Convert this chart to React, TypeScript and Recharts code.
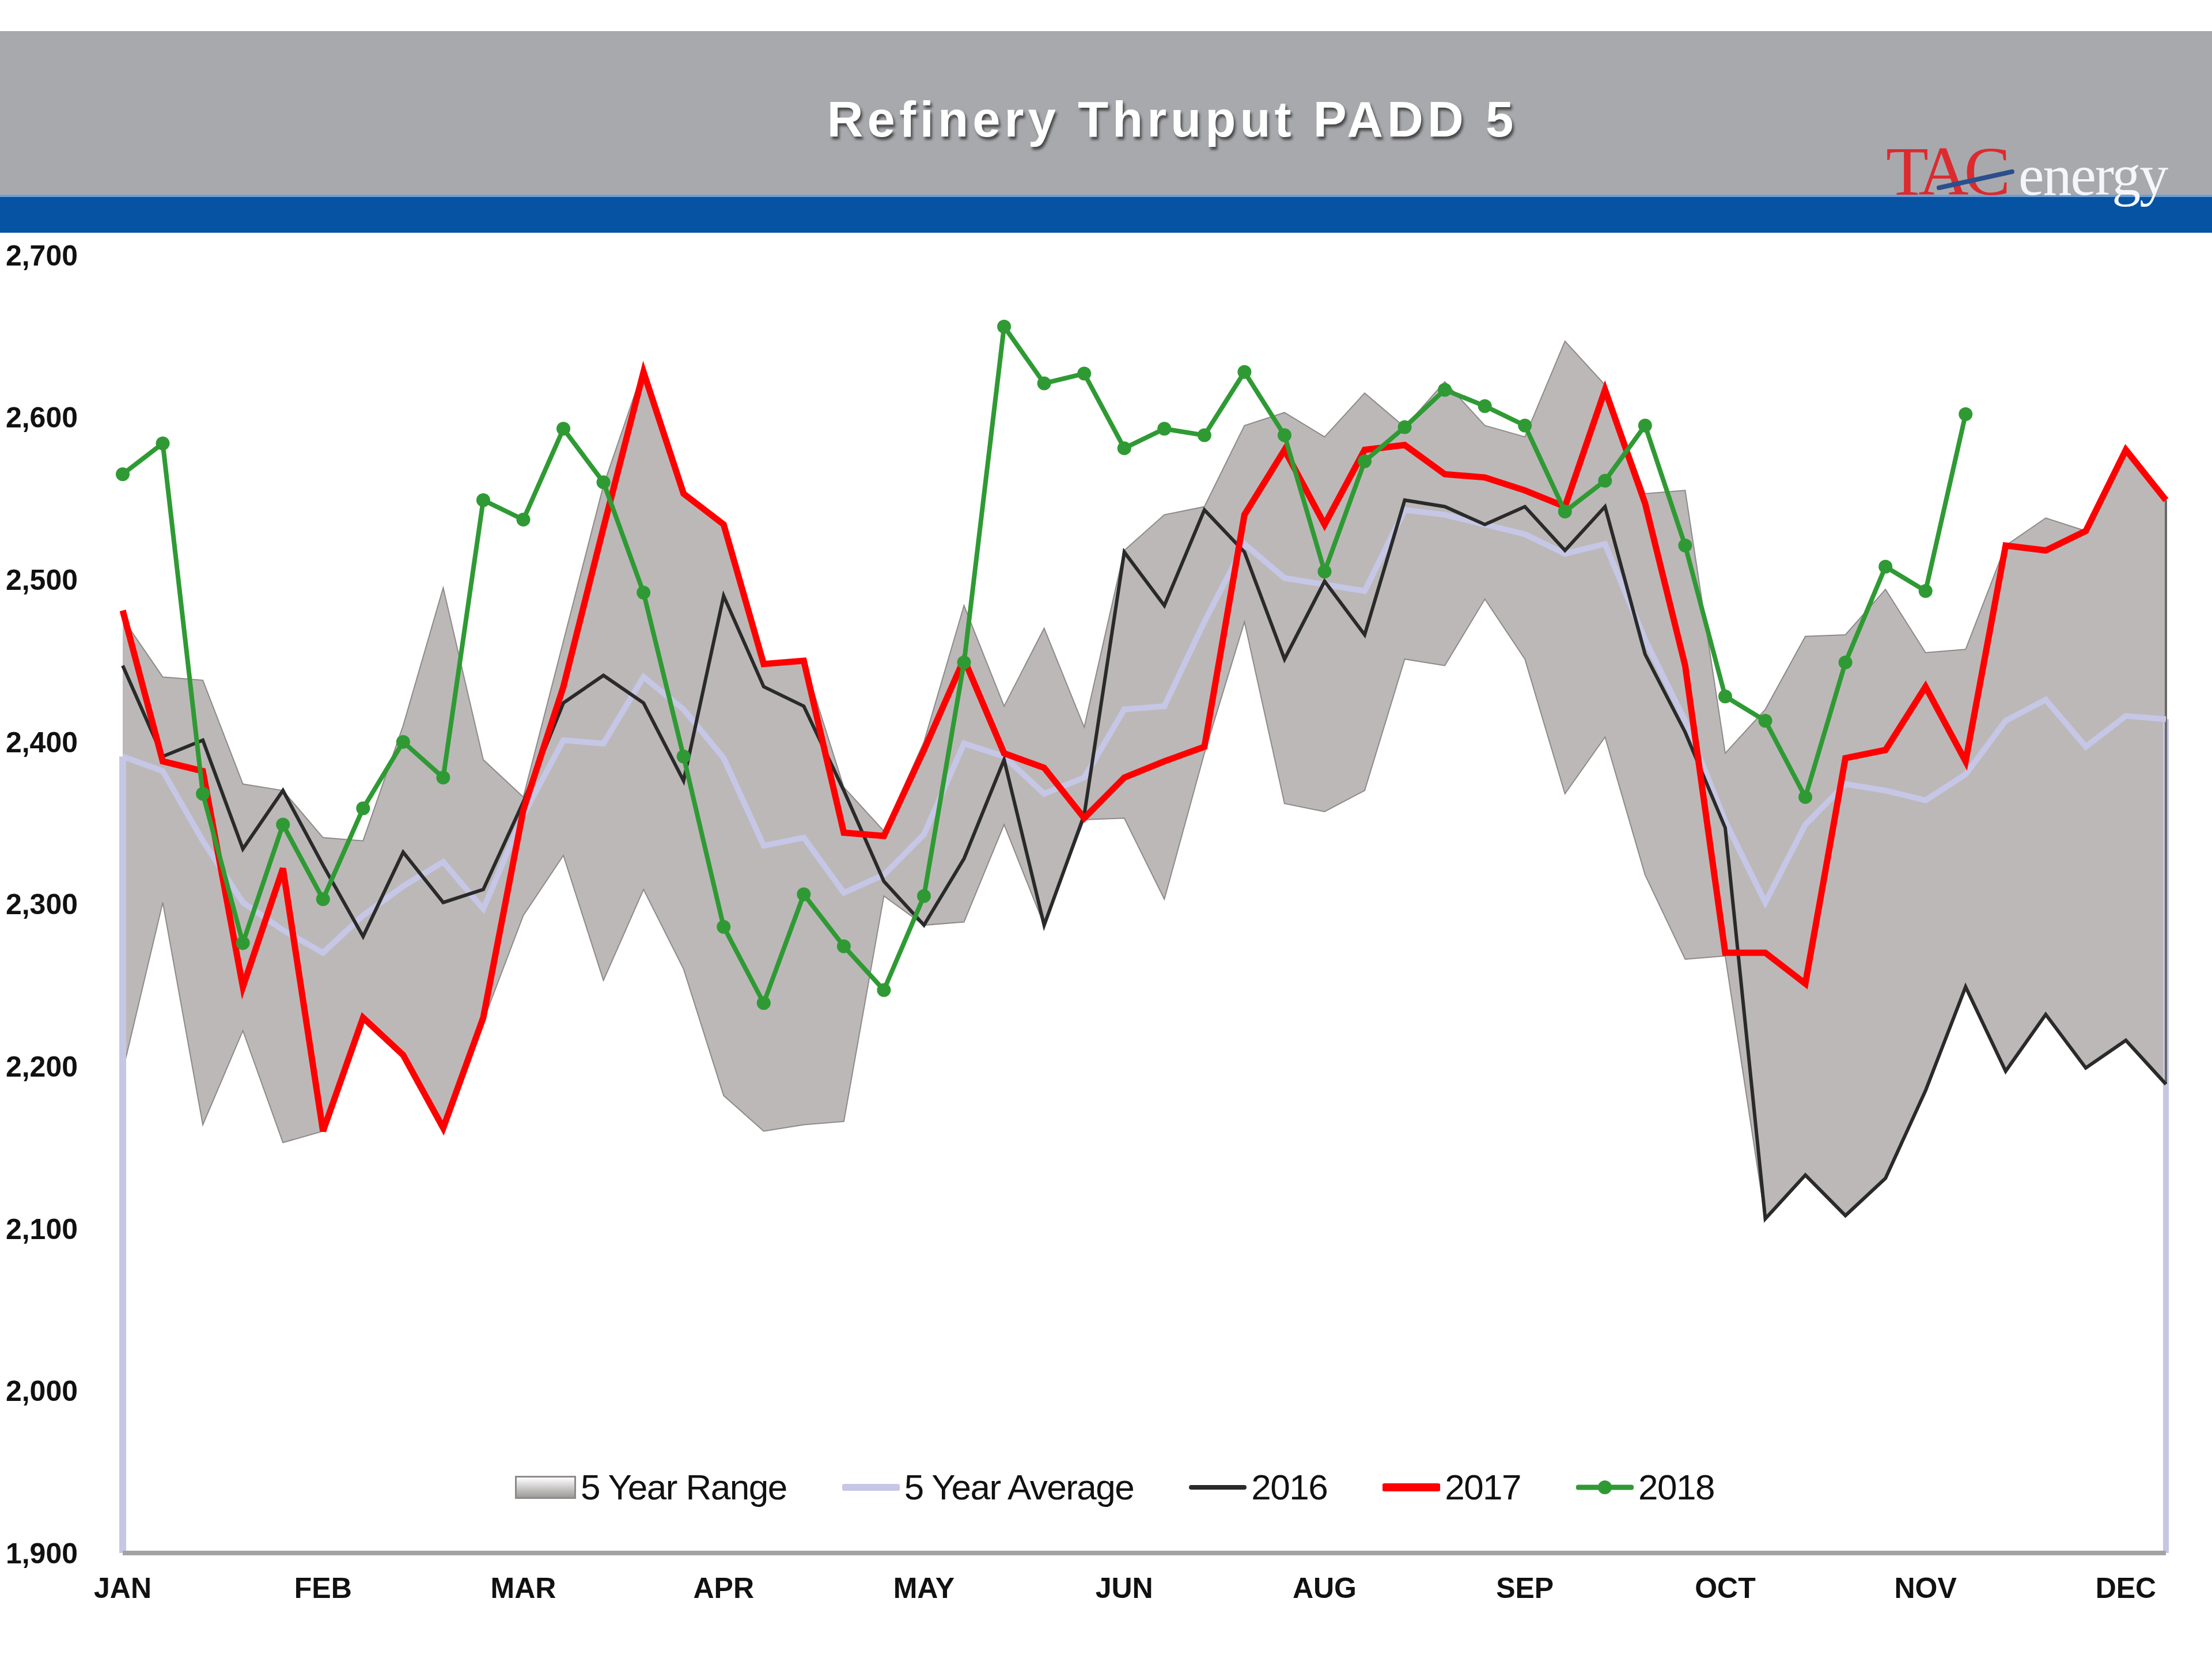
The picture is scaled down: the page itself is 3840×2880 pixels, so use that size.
import React from "react";
import {
  ComposedChart,
  Area,
  Line,
  XAxis,
  YAxis,
  Legend,
  ReferenceLine,
} from "recharts";

// week index 0..51, month labels every 5 weeks (original skips JUL)
const weeks = Array.from({ length: 52 }, (_, i) => i);
const monthLabels = ["JAN", "FEB", "MAR", "APR", "MAY", "JUN", "AUG", "SEP", "OCT", "NOV", "DEC"];
const monthTickWeeks = [0, 5, 10, 15, 20, 25, 30, 35, 40, 45, 50];
const yTicks = [1900, 2000, 2100, 2200, 2300, 2400, 2500, 2600, 2700];

const rangeHigh = [
  2476, 2440, 2438, 2374, 2370, 2341, 2339, 2410, 2495, 2389, 2366, 2462, 2558,
  2630, 2553, 2534, 2448, 2450, 2372, 2345, 2400, 2484, 2422, 2470, 2409, 2518,
  2540, 2545, 2595, 2603, 2588, 2615, 2594, 2622, 2595, 2588, 2647, 2620, 2553,
  2555, 2393, 2420, 2465, 2466, 2494, 2455, 2457, 2521, 2538, 2530, 2580, 2549,
];
const rangeLow = [
  2197, 2301, 2164, 2222, 2153, 2160, 2228, 2205, 2160, 2228, 2293, 2330, 2253,
  2309, 2260, 2182, 2160, 2164, 2166, 2305, 2287, 2289, 2349, 2287, 2352, 2353,
  2303, 2393, 2474, 2362, 2357, 2370, 2451, 2447, 2488, 2451, 2368, 2403, 2318,
  2266, 2268, 2106, 2133, 2108, 2131, 2185, 2249, 2197, 2232, 2199, 2216, 2189,
];
const avg5 = [
  2391, 2382, 2339, 2301, 2284, 2270, 2293, 2311, 2326, 2297, 2355, 2401, 2399,
  2440, 2420, 2390, 2336, 2341, 2307, 2318, 2343, 2399, 2391, 2368, 2378, 2420,
  2422, 2474, 2522, 2501, 2497, 2493, 2543, 2540, 2534, 2528, 2516, 2522, 2463,
  2413, 2351, 2301, 2349, 2374, 2370, 2364, 2380, 2413, 2426, 2397, 2416, 2414,
];
const y2016 = [
  2447, 2391, 2401, 2334, 2370, 2324, 2280, 2332, 2301, 2309, 2363, 2424, 2441,
  2424, 2376, 2490, 2434, 2422, 2370, 2314, 2287, 2328, 2389, 2287, 2355, 2517,
  2484, 2543, 2517, 2451, 2499, 2466, 2549, 2545, 2534, 2545, 2518, 2545, 2454,
  2406, 2347, 2106, 2133, 2108, 2131, 2185, 2249, 2197, 2232, 2199, 2216, 2189,
];
const y2017 = [
  2481, 2388, 2382, 2249, 2322, 2160, 2230, 2207, 2162, 2230, 2358, 2434, 2532,
  2628, 2553, 2534, 2448, 2450, 2344, 2342, 2395, 2451, 2393, 2384, 2353, 2378,
  2388, 2397, 2540, 2580, 2534, 2580, 2583, 2565, 2563, 2555, 2545, 2617, 2547,
  2447, 2270, 2270, 2251, 2390, 2395, 2434, 2388, 2521, 2518, 2530, 2580, 2549,
];
const y2018 = [
  2565, 2584, 2368, 2276, 2349, 2303, 2359, 2400, 2378, 2549, 2537, 2593, 2560,
  2492, 2391, 2286, 2239, 2306, 2274, 2247, 2305, 2449, 2656, 2621, 2627, 2581,
  2593, 2589, 2628, 2589, 2505, 2573, 2594, 2617, 2607, 2595, 2542, 2561, 2595,
  2521, 2428, 2413, 2366, 2449, 2508, 2493, 2602,
];

const seriesNames = ["5 Year Range", "5 Year Average", "2016", "2017", "2018"];

const C_RANGE = "#bcb8b8";
const C_AVG = "#c6c7e6";
const C_2016 = "#2a2a2a";
const C_2017 = "#ff0000";
const C_2018 = "#2f9a34";

const data = weeks.map((w, i) => ({
  week: w,
  range: [rangeLow[i], rangeHigh[i]],
  avg: avg5[i],
  s2016: y2016[i],
  s2017: y2017[i],
  s2018: i < y2018.length ? y2018[i] : null,
}));

const tickFont = {
  fontFamily: "'Liberation Sans', Arial, sans-serif",
  fontWeight: 700,
  fontSize: 50,
  fill: "#111",
};

function LegendIcon({ name }: { name: string }) {
  if (name === "5 Year Range") {
    return (
      <div
        style={{
          width: 106,
          height: 40,
          boxSizing: "border-box",
          border: "3px solid #8d8a8a",
          background: "linear-gradient(#ffffff, #c9c6c6 55%, #9e9b9b)",
        }}
      />
    );
  }
  const color =
    name === "5 Year Average" ? C_AVG : name === "2016" ? C_2016 : name === "2017" ? C_2017 : C_2018;
  const thick = name === "5 Year Average" ? 12 : name === "2016" ? 8 : name === "2017" ? 14 : 9;
  return (
    <svg width={100} height={50}>
      <line x1={4} x2={96} y1={25} y2={25} stroke={color} strokeWidth={thick} strokeLinecap="round" />
      {name === "2018" && <circle cx={50} cy={25} r={12} fill={C_2018} />}
    </svg>
  );
}

function LegendContent() {
  return (
    <div
      style={{
        display: "flex",
        justifyContent: "center",
        alignItems: "center",
        gap: 96,
        fontFamily: "'Liberation Sans', Arial, sans-serif",
        fontSize: 62,
        letterSpacing: -1.5,
        color: "#111",
        paddingLeft: 30,
      }}
    >
      {seriesNames.map((n) => (
        <div key={n} style={{ display: "flex", alignItems: "center" }}>
          <LegendIcon name={n} />
          <span style={{ marginLeft: 8 }}>{n}</span>
        </div>
      ))}
    </div>
  );
}

function Header() {
  return (
    <>
      <div style={{ position: "absolute", left: 0, top: 54, width: 3840, height: 284, background: "#a8a9ad" }} />
      <div
        style={{
          position: "absolute",
          left: 0,
          top: 338,
          width: 3840,
          height: 66,
          background: "#0653a3",
          borderTop: "4px solid #6f9fd6",
          boxSizing: "border-box",
        }}
      />
      <div
        style={{
          position: "absolute",
          left: 0,
          top: 157,
          width: 4070,
          textAlign: "center",
          color: "#ffffff",
          fontFamily: "'Liberation Sans', Arial, sans-serif",
          fontWeight: 700,
          fontSize: 87,
          letterSpacing: 7,
          textShadow: "3px 5px 4px rgba(40,40,40,0.75)",
        }}
      >
        Refinery Thruput PADD 5
      </div>
      <svg style={{ position: "absolute", left: 3260, top: 200 }} width={570} height={175}>
        <text
          x={14}
          y={138}
          fontFamily="'Liberation Serif', 'Times New Roman', serif"
          fontSize={121}
          letterSpacing={-8}
          fill="#dd2a2f"
        >
          TAC
        </text>
        <line x1={106} y1={126} x2={233} y2={98} stroke="#2b4f8c" strokeWidth={8} strokeLinecap="round" />
        <text
          x={244}
          y={138}
          fontFamily="'Liberation Serif', 'Times New Roman', serif"
          fontSize={100}
          letterSpacing={-2}
          fill="#f6f6fa"
        >
          energy
        </text>
      </svg>
    </>
  );
}

export default function App() {
  return (
    <div style={{ position: "absolute", left: 0, top: 0, width: 3840, height: 2880, background: "#fff", overflow: "hidden" }}>
      <Header />
      <div style={{ position: "absolute", left: 0, top: 0 }}>
        <ComposedChart
          width={3840}
          height={2880}
          data={data}
          margin={{ top: 443, right: 80, bottom: 64, left: 13 }}
        >
          <XAxis
            dataKey="week"
            type="number"
            domain={[0, 51]}
            ticks={monthTickWeeks}
            interval={0}
            tickFormatter={(v: number) => monthLabels[monthTickWeeks.indexOf(v)]}
            axisLine={{ stroke: "#a3a3a3", strokeWidth: 8 }}
            tickLine={false}
            tickSize={0}
            tickMargin={42}
            height={120}
            tick={tickFont}
          />
          <YAxis
            domain={[1900, 2700]}
            ticks={yTicks}
            interval={0}
            axisLine={false}
            tickLine={false}
            tickSize={0}
            tickMargin={78}
            width={200}
            tick={tickFont}
            tickFormatter={(v: number) => v.toLocaleString("en-US")}
          />
          <Legend
            verticalAlign="middle"
            align="center"
            layout="horizontal"
            wrapperStyle={{ top: 2546, left: 0, width: 3840 }}
            content={<LegendContent />}
          />
          <Area
            type="linear"
            dataKey="range"
            name="5 Year Range"
            fill={C_RANGE}
            fillOpacity={1}
            stroke="#8e8a8a"
            strokeWidth={2}
            isAnimationActive={false}
          />
          <ReferenceLine
            segment={[{ x: 0, y: 1900 }, { x: 0, y: avg5[0] }]}
            stroke={C_AVG}
            strokeWidth={12}
          />
          <ReferenceLine
            segment={[{ x: 51, y: 1900 }, { x: 51, y: avg5[51] }]}
            stroke={C_AVG}
            strokeWidth={10}
          />
          <ReferenceLine
            segment={[{ x: 51, y: rangeLow[51] }, { x: 51, y: rangeHigh[51] }]}
            stroke="#6a6767"
            strokeWidth={4}
          />
          <Line
            type="linear"
            dataKey="avg"
            name="5 Year Average"
            stroke={C_AVG}
            strokeWidth={10}
            dot={false}
            isAnimationActive={false}
          />
          <Line
            type="linear"
            dataKey="s2016"
            name="2016"
            stroke={C_2016}
            strokeWidth={6}
            dot={false}
            isAnimationActive={false}
          />
          <Line
            type="linear"
            dataKey="s2017"
            name="2017"
            stroke={C_2017}
            strokeWidth={11}
            dot={false}
            isAnimationActive={false}
          />
          <Line
            type="linear"
            dataKey="s2018"
            name="2018"
            stroke={C_2018}
            strokeWidth={8}
            dot={{ r: 12, fill: C_2018, stroke: C_2018, strokeWidth: 0 }}
            isAnimationActive={false}
          />
        </ComposedChart>
      </div>
    </div>
  );
}
